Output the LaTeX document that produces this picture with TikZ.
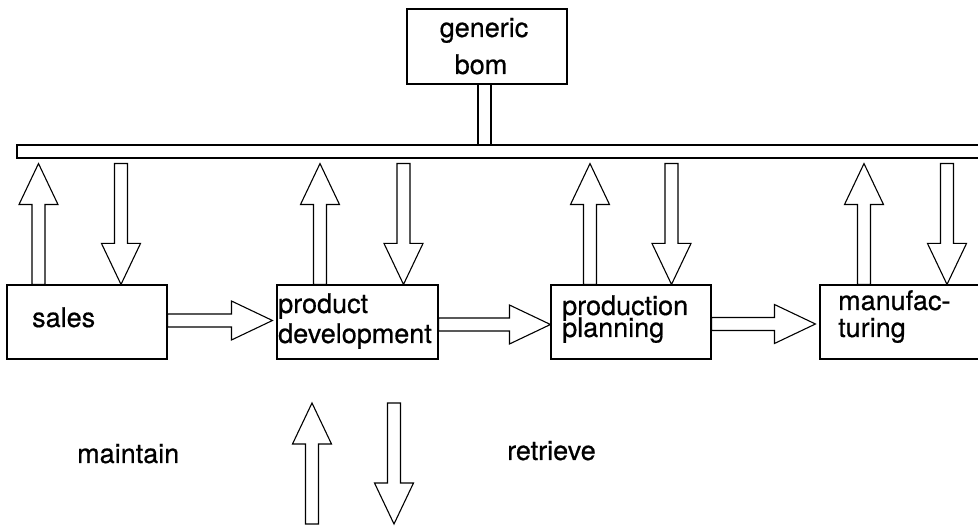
\documentclass[tikz,border=0pt]{standalone}
\usepackage{fontspec}
\setmainfont{TeX Gyre Heros}[FakeBold=0.6]
\usetikzlibrary{calc}

% Hollow block arrow from tail #1 to tip #2 (coordinates given with parentheses)
\newcommand\hollowarrow[2]{%
  \path #1 coordinate (ha-a) #2 coordinate (ha-b);
  \path ($(ha-b)!41pt!(ha-a)$) coordinate (ha-h);
  \draw[arrowline]
    ($(ha-a)!6.5pt!90:(ha-b)$) -- ($(ha-h)!6.5pt!90:(ha-b)$)
    -- ($(ha-h)!19.5pt!90:(ha-b)$) -- (ha-b)
    -- ($(ha-h)!19.5pt!-90:(ha-b)$) -- ($(ha-h)!6.5pt!-90:(ha-b)$)
    -- ($(ha-a)!6.5pt!-90:(ha-b)$) -- cycle;
}

\begin{document}
\begin{tikzpicture}[x=1pt,y=-1pt,
  box/.style={draw,line width=1.1pt,minimum width=160pt,minimum height=74pt,inner sep=0pt},
  lbl/.style={inner sep=0pt,font=\fontsize{27}{30}\selectfont},
  arrowline/.style={line width=1.1pt,fill=white,line join=miter}]
\useasboundingbox (0,0) rectangle (978,526);

% generic bom and the common bus
\node[box,minimum height=75pt] (bom) at (487,46.5) {};
\node[draw,line width=1.1pt,minimum width=968pt,minimum height=13pt,inner sep=0pt] (bar) at (501,151.5) {};
\draw[line width=1.1pt,fill=white] ([xshift=-9pt]bom.south) rectangle ([xshift=4pt]bom.south |- bar.north);

% department boxes
\node[box] (sales) at (87,322) {};
\node[box,minimum width=161pt] (pd) at (357.5,322) {};
\node[box] (pp) at (631,322) {};
\node[box] (mf) at (900,322) {};

% labels
\node[lbl,anchor=base] (l-generic) at (484,37) {generic};
\node[lbl,anchor=base] (l-bom) at (481,74) {bom};
\node[lbl,anchor=base west] (l-sales) at (32,327) {sales};
\node[lbl,anchor=base west] (l-pd1) at (278,313) {product};
\node[lbl,anchor=base west] (l-pd2) at (278,343) {development};
\node[lbl,anchor=base west] (l-pp1) at (562,315) {production};
\node[lbl,anchor=base west] (l-pp2) at (562,337) {planning};
\node[lbl,anchor=base west] (l-mf1) at (838,310) {manufac-};
\node[lbl,anchor=base west] (l-mf2) at (838,337) {turing};
\node[lbl,anchor=base west] (l-maintain) at (77,463) {maintain};
\node[lbl,anchor=base west] (l-retrieve) at (507,460) {retrieve};

% column and row helpers
\coordinate (barlow) at ([yshift=-5pt]bar.south);
\foreach \n/\x in {c1/38.5,c2/121,c3/320,c4/403.5,c5/590,c6/671.5,c7/864,c8/947}
  \coordinate (\n) at (\x,0);
\coordinate (r1) at (0,320.5);
\coordinate (r2) at (0,324.5);
\coordinate (r3) at (0,324);
\coordinate (pdin) at ([xshift=-4pt]pd.west);
\coordinate (mfin) at ([xshift=-4pt]mf.west);

% maintain (up) and retrieve (down) between each box and the bus
\hollowarrow{(sales.north -| c1)}{(barlow -| c1)}
\hollowarrow{(barlow -| c2)}{(sales.north -| c2)}
\hollowarrow{(pd.north -| c3)}{(barlow -| c3)}
\hollowarrow{(barlow -| c4)}{(pd.north -| c4)}
\hollowarrow{(pp.north -| c5)}{(barlow -| c5)}
\hollowarrow{(barlow -| c6)}{(pp.north -| c6)}
\hollowarrow{(mf.north -| c7)}{(barlow -| c7)}
\hollowarrow{(barlow -| c8)}{(mf.north -| c8)}

% flow between departments
\hollowarrow{(sales.east |- r1)}{(pdin |- r1)}
\hollowarrow{(pd.east |- r2)}{(pp.west |- r2)}
\hollowarrow{(pp.east |- r3)}{(mfin |- r3)}

% legend arrows
\coordinate (up-tail) at (312,524);
\coordinate (up-tip) at (312,403);
\coordinate (dn-tail) at (394,403);
\coordinate (dn-tip) at (394,524);
\hollowarrow{(up-tail)}{(up-tip)}
\hollowarrow{(dn-tail)}{(dn-tip)}
\end{tikzpicture}
\end{document}
